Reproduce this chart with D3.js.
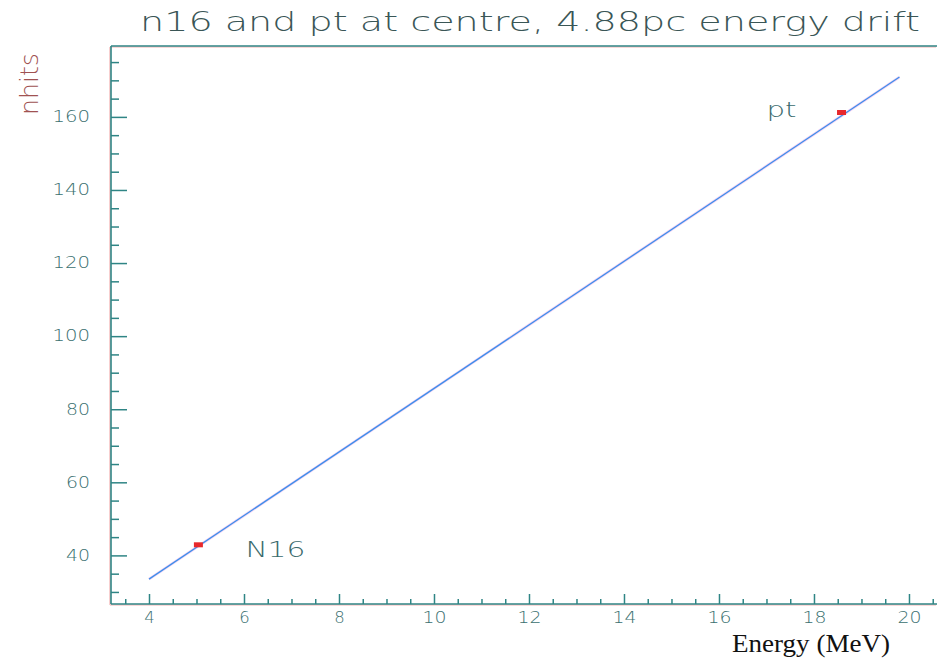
<!DOCTYPE html>
<html>
<head>
<meta charset="utf-8">
<script src="https://cdn.jsdelivr.net/npm/d3@7/dist/d3.min.js"></script>
<style>
  html, body { margin: 0; padding: 0; background: #fff; }
  svg { display: block; }
  .hershey { font-family: "DejaVu Sans", sans-serif; font-weight: 200; }
</style>
</head>
<body>
<svg id="chart" width="937" height="658"></svg>
<script>
// Calibration points (energy in MeV, number of hits)
const sources = ["N16", "pt"];
const sourceEnergy = [5.04, 18.58];
const sourceNhits = [42.9, 161.2];

// Straight-line calibration drawn through the sources
const fitEnergy = [4.0, 19.8];
const fitNhits = [33.5, 170.9];

// Axis tick values
const xMajorTicks = [4, 6, 8, 10, 12, 14, 16, 18, 20];
const xMinorTicks = [3.5, 4.5, 5, 5.5, 6.5, 7, 7.5, 8.5, 9, 9.5, 10.5, 11, 11.5, 12.5, 13, 13.5,
                     14.5, 15, 15.5, 16.5, 17, 17.5, 18.5, 19, 19.5, 20.5];
const yMajorTicks = [40, 60, 80, 100, 120, 140, 160];
const yMinorTicks = [30, 35, 45, 50, 55, 65, 70, 75, 85, 90, 95, 105, 110, 115, 125, 130, 135,
                     145, 150, 155, 165, 170, 175];

const titleText = "n16 and pt at centre, 4.88pc energy drift";
const xTitle = "Energy (MeV)";
const yTitle = "nhits";

const axisColor = "#2f8585";
const labelColor = "#3a7070";

const svg = d3.select("#chart");
const plotLeft = 111, plotRight = 937, plotTop = 46, plotBottom = 604;

const x = d3.scaleLinear().domain([3.2, 20.59]).range([plotLeft, plotRight]);
const y = d3.scaleLinear().domain([26.7, 179.4]).range([plotBottom, plotTop]);

// Wide plotter-style lettering: stretch each string to a fixed advance per character
function plotterText(sel, size, advance, gap) {
  sel.attr("class", "hershey")
    .attr("font-size", size)
    .attr("lengthAdjust", "spacingAndGlyphs")
    .attr("textLength", function () { return this.textContent.length * advance - gap; });
}

// Frame: top edge, left and bottom axes (faint red fringe under the teal)
const frame = [[plotLeft, plotTop, plotRight, plotTop], [plotLeft, plotTop, plotLeft, plotBottom],
               [plotLeft, plotBottom, plotRight, plotBottom]];
svg.append("g").selectAll("line").data(frame).join("line")
  .attr("x1", d => d[0] - 1).attr("y1", d => d[1] + 1)
  .attr("x2", d => d[2] - 1).attr("y2", d => d[3] + 1)
  .attr("stroke", "#f4b0b0").attr("stroke-width", 1.2);
svg.append("g").selectAll("line").data(frame).join("line")
  .attr("x1", d => d[0]).attr("y1", d => d[1])
  .attr("x2", d => d[2]).attr("y2", d => d[3])
  .attr("stroke", axisColor).attr("stroke-width", 1.6);

function styleAxis(g) {
  g.select(".domain").remove();
  g.selectAll(".tick line").attr("stroke", axisColor).attr("stroke-width", 1.5);
  g.selectAll(".tick text")
    .attr("fill", labelColor)
    .call(plotterText, 15, 13.5, 3);
}

// X axis: ticks point up into the plot
svg.append("g").attr("transform", `translate(0,${plotBottom})`)
  .call(d3.axisBottom(x).tickValues(xMinorTicks).tickSizeInner(-5).tickSizeOuter(0).tickFormat(""))
  .call(styleAxis);
svg.append("g").attr("transform", `translate(0,${plotBottom})`)
  .call(d3.axisBottom(x).tickValues(xMajorTicks).tickSizeInner(-10).tickSizeOuter(0).tickPadding(8)
    .tickFormat(d3.format("d")))
  .call(styleAxis)
  .call(g => g.selectAll(".tick text").attr("dy", "0.71em"));

// Y axis: ticks point right into the plot
svg.append("g").attr("transform", `translate(${plotLeft},0)`)
  .call(d3.axisLeft(y).tickValues(yMinorTicks).tickSizeInner(-8).tickSizeOuter(0).tickFormat(""))
  .call(styleAxis);
svg.append("g").attr("transform", `translate(${plotLeft},0)`)
  .call(d3.axisLeft(y).tickValues(yMajorTicks).tickSizeInner(-16).tickSizeOuter(0).tickPadding(21)
    .tickFormat(d3.format("d")))
  .call(styleAxis);

// Calibration line
const fit = fitEnergy.map((e, i) => ({ e, n: fitNhits[i] }));
const line = d3.line().x(d => x(d.e)).y(d => y(d.n));
svg.append("path").datum(fit).attr("d", line)
  .attr("fill", "none").attr("stroke", "#f6d4f4").attr("stroke-width", 2.8);
svg.append("path").datum(fit).attr("d", line)
  .attr("fill", "none").attr("stroke", "#3d8fea").attr("stroke-width", 1.3);

// Source markers
const pts = sources.map((s, i) => ({ s, e: sourceEnergy[i], n: sourceNhits[i] }));
svg.append("g").selectAll("rect").data(pts).join("rect")
  .attr("x", d => x(d.e) - 4.5).attr("y", d => y(d.n) - 2.5)
  .attr("width", 9).attr("height", 5)
  .attr("fill", "#e8282c");

// Source labels
const labelLayout = {
  N16: { dx: 47, dy: 12, anchor: "start", advance: 21 },
  pt: { dx: -45, dy: 4, anchor: "end", advance: 16.5 }
};
svg.append("g").selectAll("text").data(pts).join("text")
  .attr("x", d => x(d.e) + labelLayout[d.s].dx)
  .attr("y", d => y(d.n) + labelLayout[d.s].dy)
  .attr("text-anchor", d => labelLayout[d.s].anchor)
  .attr("fill", "#3a6a6c")
  .text(d => d.s)
  .each(function (d) { d3.select(this).call(plotterText, 21, labelLayout[d.s].advance, 3); });

// Title
svg.append("text")
  .attr("x", 140).attr("y", 31)
  .attr("fill", "#3a5656")
  .text(titleText)
  .call(plotterText, 27, 780 / 41, 0);

// Axis titles
svg.append("text")
  .attr("x", 732).attr("y", 652)
  .attr("font-family", "'Liberation Serif', 'Times New Roman', serif")
  .attr("font-size", 26).attr("fill", "#111")
  .attr("textLength", 158).attr("lengthAdjust", "spacingAndGlyphs")
  .text(xTitle);

svg.append("text")
  .attr("transform", "translate(38,115) rotate(-90)")
  .attr("fill", "#a05252")
  .text(yTitle)
  .call(plotterText, 24, 62 / 5, 0);
</script>
</body>
</html>
